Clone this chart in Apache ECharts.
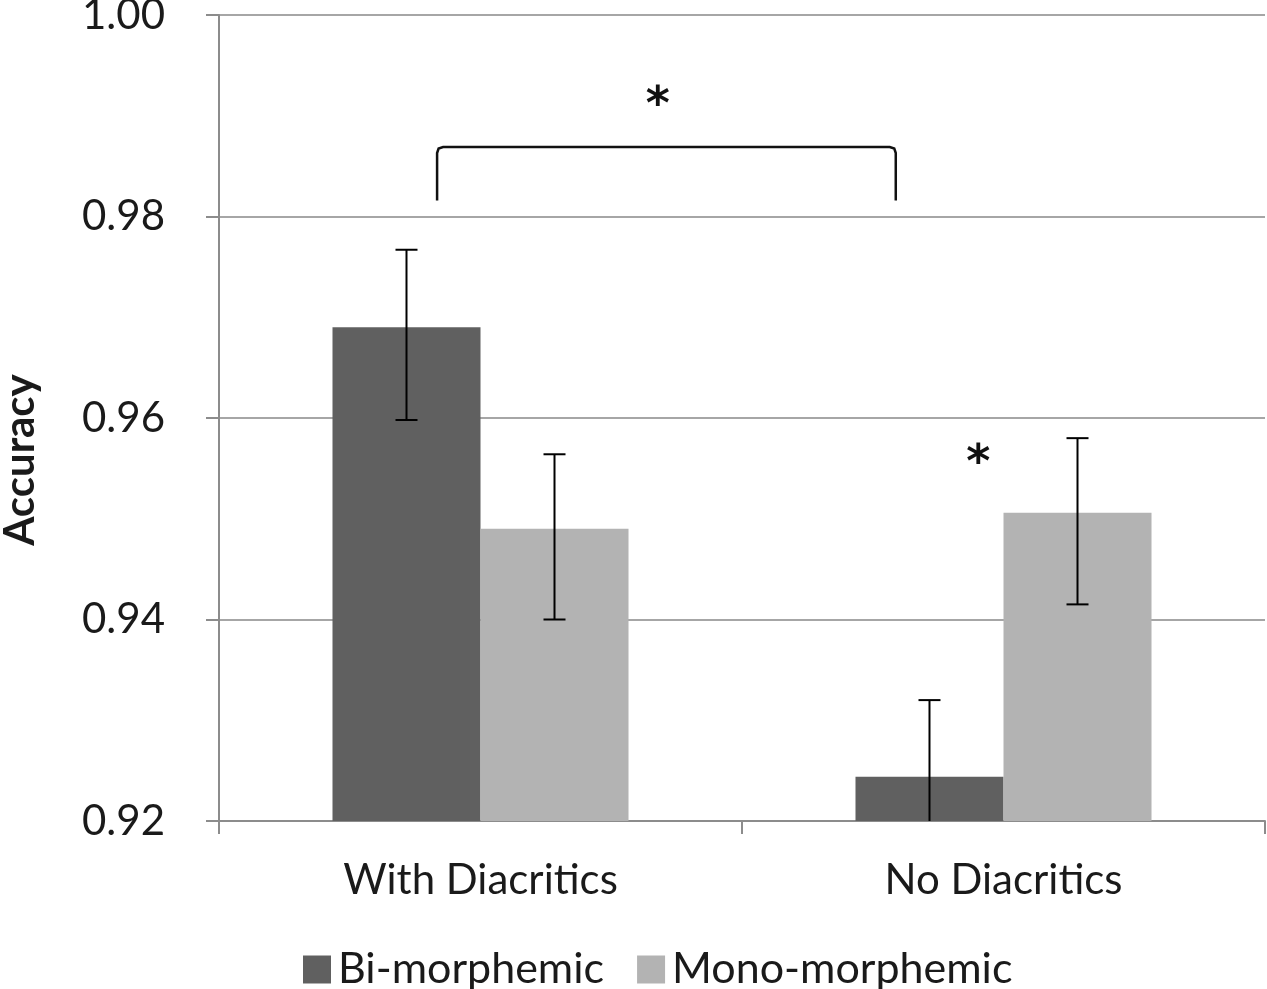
<!DOCTYPE html>
<html>
<head>
<meta charset="utf-8">
<script src="https://cdn.jsdelivr.net/npm/echarts@6/dist/echarts.min.js"></script>
<style>
  html, body { margin: 0; padding: 0; background: #fff; }
  #main { width: 1267px; height: 989px; }
</style>
</head>
<body>
<div id="main"></div>
<script>
// data
const categories = ['With Diacritics', 'No Diacritics'];
const seriesNames = ['Bi-morphemic', 'Mono-morphemic'];
const biValues = [0.9690, 0.9244];
const monoValues = [0.9490, 0.9506];
const biHigh = [0.9767, 0.9320];
const biLow = [0.9598, 0.9168];
const monoHigh = [0.9564, 0.9580];
const monoLow = [0.9400, 0.9415];
const yTicks = [0.92, 0.94, 0.96, 0.98, 1.00];

const colors = ['#606060', '#b3b3b3'];
const BAR_RATIO = 0.283;
const FONT = 'Lato, "Open Sans", sans-serif';

const chartDom = document.getElementById('main');
const myChart = echarts.init(chartDom);

// error bars for one series, offset to its bar
function errorBarSeries(lows, highs, side) {
    return {
        type: 'custom',
        clip: true,
        silent: true,
        z: 10,
        data: categories.map((c, i) => [i, lows[i], highs[i]]),
        renderItem: function (params, api) {
            const band = api.size([1, 0])[0];
            const off = side * band * BAR_RATIO / 2;
            const lo = api.coord([api.value(0), api.value(1)]);
            const hi = api.coord([api.value(0), api.value(2)]);
            const x = lo[0] + off;
            const cap = 11;
            const style = { stroke: '#000', lineWidth: 2 };
            return {
                type: 'group',
                children: [
                    { type: 'line', shape: { x1: x, y1: lo[1], x2: x, y2: hi[1] }, style: style },
                    { type: 'line', shape: { x1: x - cap, y1: hi[1], x2: x + cap, y2: hi[1] }, style: style },
                    { type: 'line', shape: { x1: x - cap, y1: lo[1], x2: x + cap, y2: lo[1] }, style: style }
                ]
            };
        }
    };
}

const option = {
    animation: false,
    backgroundColor: '#fff',
    grid: { left: 219, right: 2, top: 15, bottom: 168, outerBoundsMode: 'none', containLabel: false },
    legend: {
        data: seriesNames,
        left: 298,
        top: 943,
        itemWidth: 28,
        itemHeight: 28,
        itemGap: 33,
        icon: 'rect',
        textStyle: { fontFamily: FONT, fontSize: 43, color: '#1a1a1a', padding: [0, 0, 0, 2] }
    },
    xAxis: {
        type: 'category',
        data: categories,
        axisLine: { lineStyle: { color: '#8c8c8c', width: 2 } },
        axisTick: { show: true, length: 13, lineStyle: { color: '#8c8c8c', width: 2 } },
        axisLabel: { margin: 38, fontFamily: FONT, fontSize: 42, color: '#1a1a1a' }
    },
    yAxis: {
        type: 'value',
        min: yTicks[0],
        max: yTicks[yTicks.length - 1],
        interval: 0.02,
        axisLine: { show: true, lineStyle: { color: '#8c8c8c', width: 2 } },
        axisTick: { show: true, length: 13, lineStyle: { color: '#8c8c8c', width: 2 } },
        splitLine: { lineStyle: { color: '#a6a6a6', width: 2 } },
        axisLabel: {
            margin: 54,
            fontFamily: FONT,
            fontSize: 42,
            color: '#1a1a1a',
            formatter: v => v.toFixed(2)
        }
    },
    series: [
        {
            name: seriesNames[0],
            type: 'bar',
            data: biValues,
            barWidth: (BAR_RATIO * 100) + '%',
            barGap: '0%',
            itemStyle: { color: colors[0] }
        },
        {
            name: seriesNames[1],
            type: 'bar',
            data: monoValues,
            barWidth: (BAR_RATIO * 100) + '%',
            barGap: '0%',
            itemStyle: { color: colors[1] }
        },
        errorBarSeries(biLow, biHigh, -1),
        errorBarSeries(monoLow, monoHigh, 1)
    ]
};

myChart.setOption(option);

// significance marks: bracket between the two groups and a star over No Diacritics
// x is a fractional category position, interpolated between the two category centres
const c0 = myChart.convertToPixel({ gridIndex: 0 }, [0, yTicks[0]]);
const c1 = myChart.convertToPixel({ gridIndex: 0 }, [1, yTicks[0]]);
function px(x, y) {
    const py = myChart.convertToPixel({ yAxisIndex: 0 }, y);
    return [c0[0] + (c1[0] - c0[0]) * x, py];
}
const bL = px(-0.083, 0.9816);
const bT = px(-0.083, 0.9869);
const bR = px(0.794, 0.9816);
const r = 6;
const star1 = px(0.339, 0.9909);
const star2 = px(0.952, 0.9553);
const starFont = 'bold 46px "DejaVu Sans"';

myChart.setOption({
    graphic: [
        {
            type: 'polyline',
            shape: {
                points: [
                    [bL[0], bL[1]],
                    [bL[0], bT[1] + r],
                    [bL[0] + 1.5, bT[1] + 1.5],
                    [bL[0] + r, bT[1]],
                    [bR[0] - r, bT[1]],
                    [bR[0] - 1.5, bT[1] + 1.5],
                    [bR[0], bT[1] + r],
                    [bR[0], bL[1]]
                ]
            },
            style: { stroke: '#111', lineWidth: 2.5, fill: null }
        },
        {
            type: 'text', x: star1[0], y: star1[1],
            style: { text: '*', font: starFont, fill: '#111', align: 'center', verticalAlign: 'middle' }
        },
        {
            type: 'text', x: star2[0], y: star2[1],
            style: { text: '*', font: starFont, fill: '#111', align: 'center', verticalAlign: 'middle' }
        },
        {
            type: 'text', x: 20, y: 460, rotation: Math.PI / 2,
            style: {
                text: 'Accuracy', font: 'bold 42px Lato, "Open Sans", sans-serif', fill: '#1a1a1a',
                align: 'center', verticalAlign: 'middle'
            }
        }
    ]
});
</script>
</body>
</html>
